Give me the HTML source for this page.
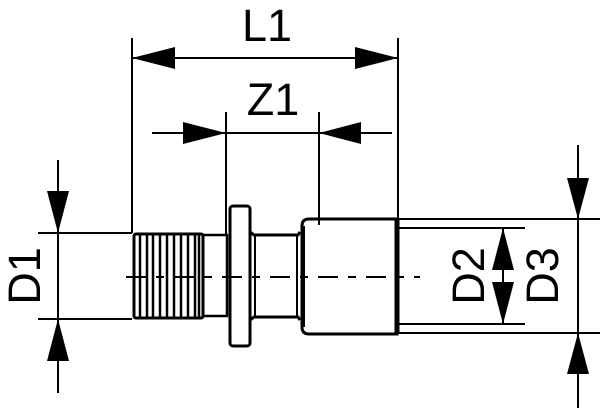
<!DOCTYPE html>
<html><head><style>html,body{margin:0;padding:0;background:#fff;}svg{display:block}</style></head>
<body>
<svg width="600" height="408" viewBox="0 0 600 408" xmlns="http://www.w3.org/2000/svg">
<g stroke="#000" stroke-width="2" fill="none">
<line x1="132" y1="38" x2="132" y2="233"/>
<line x1="398" y1="38" x2="398" y2="218"/>
<line x1="132" y1="58" x2="398" y2="58"/>
<line x1="226" y1="112" x2="226" y2="234"/>
<line x1="319" y1="112" x2="319" y2="225"/>
<line x1="152" y1="133" x2="226" y2="133"/>
<line x1="319" y1="133" x2="392" y2="133"/>
<line x1="226" y1="133" x2="319" y2="133"/>
<line x1="38" y1="233" x2="132" y2="233"/>
<line x1="38" y1="319" x2="132" y2="319"/>
<line x1="58" y1="160" x2="58" y2="393"/>
<line x1="398" y1="228" x2="525" y2="228"/>
<line x1="398" y1="324" x2="525" y2="324"/>
<line x1="398" y1="219" x2="600" y2="219"/>
<line x1="398" y1="333" x2="600" y2="333"/>
<line x1="503" y1="228" x2="503" y2="324"/>
<line x1="578" y1="145" x2="578" y2="408"/>
</g>
<g fill="#000">
<polygon points="132,58 175,47 175,69"/>
<polygon points="398,58 355,47 355,69"/>
<polygon points="226,133 183,122 183,144"/>
<polygon points="319,133 361,122 361,144"/>
<polygon points="58,233 47,191 69,191"/>
<polygon points="58,319 47,361 69,361"/>
<polygon points="503,228 492,270 514,270"/>
<polygon points="503,324 492,282 514,282"/>
<polygon points="578,219 567,178 589,178"/>
<polygon points="578,333 567,374 589,374"/>
</g>
<g stroke="#000" fill="none">
<rect x="134" y="234" width="69" height="84" rx="2" stroke-width="3"/>
<g stroke-width="2.5">
<line x1="140" y1="234" x2="140" y2="318"/><line x1="147" y1="234" x2="147" y2="318"/>
<line x1="153" y1="234" x2="153" y2="318"/><line x1="160" y1="234" x2="160" y2="318"/>
<line x1="167" y1="234" x2="167" y2="318"/><line x1="174" y1="234" x2="174" y2="318"/>
<line x1="181" y1="234" x2="181" y2="318"/><line x1="188" y1="234" x2="188" y2="318"/>
<line x1="195" y1="234" x2="195" y2="318"/><line x1="199" y1="234" x2="199" y2="318"/>
</g>
<rect x="203" y="235" width="24" height="81" stroke-width="2.5"/>
<rect x="230" y="206" width="20" height="140" rx="3" stroke-width="3"/>
<path d="M250 232 L254 235 L298 235 L300 232 M250 320 L254 317 L298 317 L300 320" stroke-width="3"/>
<line x1="255" y1="235" x2="255" y2="317" stroke-width="2"/>
<line x1="297" y1="235" x2="297" y2="317" stroke-width="2"/>
<path d="M302 226 Q302 219 309 219 L397 219 L397 334 L309 334 Q302 334 302 327 Z" stroke-width="3"/>
<line x1="303" y1="226" x2="303" y2="327" stroke-width="4"/>
<line x1="397" y1="219" x2="397" y2="334" stroke-width="5"/>
<line x1="126" y1="277" x2="420" y2="277" stroke-width="2" stroke-dasharray="20,10,8,10"/>
</g>
<g font-family="'Liberation Sans', sans-serif" font-size="45" fill="#000" text-anchor="middle">
<text x="267" y="41">L1</text>
<text x="273" y="115">Z1</text>
<text transform="translate(40,276) rotate(-90)">D1</text>
<text transform="translate(484,276) rotate(-90)">D2</text>
<text transform="translate(558,276) rotate(-90)">D3</text>
</g>
</svg>
</body></html>
